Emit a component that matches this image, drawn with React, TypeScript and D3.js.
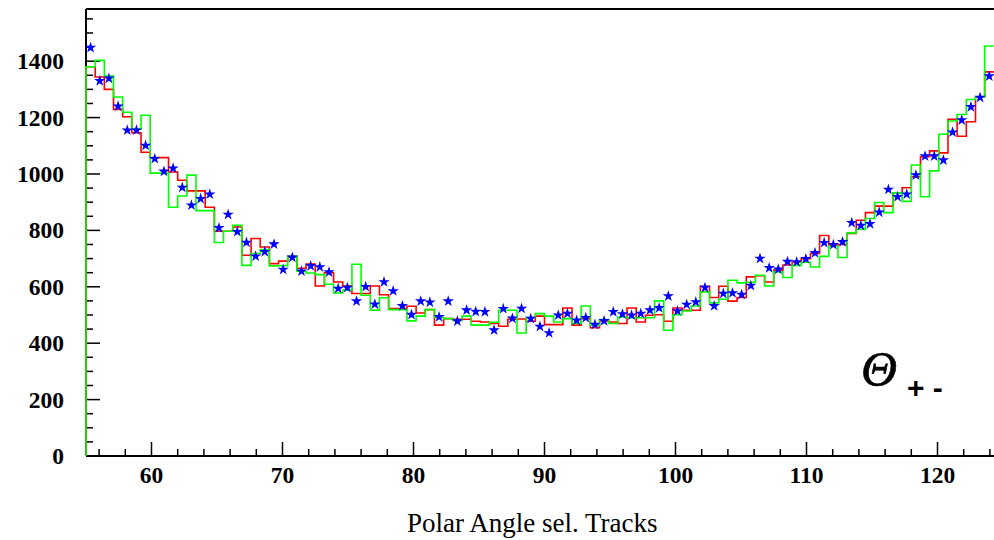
import React from 'react';
import * as d3 from 'd3';

// Histogram binning (100 bins of 0.7 deg from 55 to 125)
const X_MIN = 55;
const X_MAX = 125;
const BIN_WIDTH = 0.7;
const Y_MAX = 1585;

const xMajorTicks = [60, 70, 80, 90, 100, 110, 120];
const yMajorTicks = [0, 200, 400, 600, 800, 1000, 1200, 1400];

// red histogram
const redCounts = [
  1380, 1344, 1300, 1229, 1203, 1146, 1077, 1058, 1058, 1007,
  978, 940, 940, 882, 797, 797, 812, 712, 771, 741,
  682, 691, 707, 666, 681, 603, 650, 617, 603, 576,
  576, 603, 572, 523, 523, 531, 507, 519, 464, 487,
  485, 485, 478, 475, 470, 460, 485, 486, 478, 496,
  466, 466, 525, 464, 487, 455, 479, 475, 470, 525,
  475, 499, 501, 478, 525, 517, 517, 602, 562, 602,
  549, 562, 635, 639, 617, 659, 677, 688, 700, 718,
  782, 748, 750, 789, 836, 863, 886, 886, 933, 951,
  990, 1061, 1082, 1075, 1194, 1134, 1185, 1273, 1362,
];

// green histogram
const greenCounts = [
  1380, 1403, 1347, 1273, 1219, 1160, 1208, 1003, 1003, 882,
  922, 996, 870, 870, 757, 797, 818, 676, 718, 732,
  674, 675, 708, 655, 649, 643, 609, 578, 588, 680,
  570, 517, 561, 519, 519, 479, 496, 519, 491, 487,
  481, 496, 464, 464, 474, 517, 517, 436, 491, 505,
  496, 475, 487, 470, 532, 464, 484, 470, 493, 490,
  490, 490, 550, 446, 501, 514, 532, 582, 543, 556,
  623, 614, 616, 641, 603, 653, 633, 676, 687, 670,
  708, 744, 704, 791, 804, 842, 899, 863, 933, 903,
  1032, 919, 1011, 1141, 1188, 1211, 1264, 1273, 1454,
];

// blue stars
const starCounts = [
  1448, 1330, 1339, 1240, 1155, 1155, 1101, 1054, 1009, 1020,
  952, 889, 912, 928, 809, 856, 795, 757, 708, 724,
  751, 661, 704, 655, 674, 670, 652, 594, 597, 549,
  600, 538, 617, 585, 532, 501, 549, 545, 493, 549,
  478, 517, 512, 511, 446, 522, 488, 523, 487, 459,
  436, 499, 505, 481, 490, 466, 479, 511, 503, 499,
  505, 517, 525, 567, 514, 537, 546, 597, 532, 576,
  578, 572, 604, 700, 667, 662, 689, 688, 699, 720,
  756, 749, 759, 827, 817, 823, 864, 945, 919, 928,
  996, 1063, 1063, 1049, 1148, 1191, 1238, 1271, 1347,
];

const FONT = '"Liberation Serif", "Times New Roman", serif';
const SANS = '"Liberation Sans", Arial, sans-serif';

export default function App() {
  const W = 994;
  const H = 540;
  const x = d3.scaleLinear().domain([X_MIN, X_MAX]).range([86, 1003]);
  const y = d3.scaleLinear().domain([0, Y_MAX]).range([456, 9]);

  const histPath = (vals: number[]) => {
    let p = `M${x(X_MIN)},${y(0)}`;
    vals.forEach((v, i) => {
      const x1 = x(X_MIN + (i + 1) * BIN_WIDTH);
      p += `V${y(v)}H${x1}`;
    });
    return p;
  };

  const xMinor = d3.range(56, 125, 2).filter((t) => t % 10 !== 0);
  const yMinor = d3.range(0, Y_MAX, 50).filter((t) => t % 200 !== 0);
  const star = d3.symbol().type(d3.symbolStar).size(40)();

  return (
    <div style={{ position: 'fixed', left: 0, top: 0, width: W, height: H, overflow: 'hidden', background: '#fff' }}>
      <svg width={W} height={H} style={{ display: 'block' }}>
        <rect x={0} y={0} width={W} height={H} fill="#fff" />
        {/* frame / axes */}
        <line x1={x(X_MIN)} x2={x(X_MAX)} y1={y(Y_MAX)} y2={y(Y_MAX)} stroke="#000" strokeWidth={2} />
        <line x1={x(X_MIN)} x2={x(X_MAX)} y1={y(0)} y2={y(0)} stroke="#000" strokeWidth={2} />
        <line x1={x(X_MIN)} x2={x(X_MIN)} y1={y(0)} y2={y(Y_MAX)} stroke="#000" strokeWidth={2} />
        {xMajorTicks.map((t) => (
          <g key={'xm' + t}>
            <line x1={x(t)} x2={x(t)} y1={y(0)} y2={y(0) - 14} stroke="#000" strokeWidth={1.5} />
            <text x={x(t)} y={483} textAnchor="middle" fontFamily={FONT} fontWeight="bold" fontSize={23.5} fill="#000">{t}</text>
          </g>
        ))}
        {xMinor.map((t) => (
          <line key={'xn' + t} x1={x(t)} x2={x(t)} y1={y(0)} y2={y(0) - 7} stroke="#000" strokeWidth={1.5} />
        ))}
        {yMajorTicks.map((t) => (
          <g key={'ym' + t}>
            <line x1={x(X_MIN)} x2={x(X_MIN) + 14} y1={y(t)} y2={y(t)} stroke="#000" strokeWidth={1.5} />
            <text x={64} y={y(t) + 8} textAnchor="end" fontFamily={FONT} fontWeight="bold" fontSize={23.5} fill="#000">{t}</text>
          </g>
        ))}
        {yMinor.map((t) => (
          <line key={'yn' + t} x1={x(X_MIN)} x2={x(X_MIN) + 7} y1={y(t)} y2={y(t)} stroke="#000" strokeWidth={1.5} />
        ))}
        {/* histograms */}
        <path d={histPath(redCounts)} fill="none" stroke="#ff0000" strokeWidth={1.6} />
        <path d={histPath(greenCounts)} fill="none" stroke="#00ff00" strokeWidth={1.6} />
        {starCounts.map((v, i) => (
          <path
            key={'s' + i}
            d={star as string}
            transform={`translate(${x(X_MIN + (i + 0.5) * BIN_WIDTH)},${y(v)})`}
            fill="#0000ff"
          />
        ))}
        {/* labels */}
        <text x={861} y={386} fontFamily={FONT} fontStyle="italic" fontSize={50} fill="#000" stroke="#000" strokeWidth={0.6}>Θ</text>
        <text x={407} y={532} fontFamily={FONT} fontSize={27} fill="#000">Polar Angle sel. Tracks</text>
        <text x={907} y={398} fontFamily={SANS} fontWeight="bold" fontSize={30} fill="#000">+ -</text>
      </svg>
    </div>
  );
}
